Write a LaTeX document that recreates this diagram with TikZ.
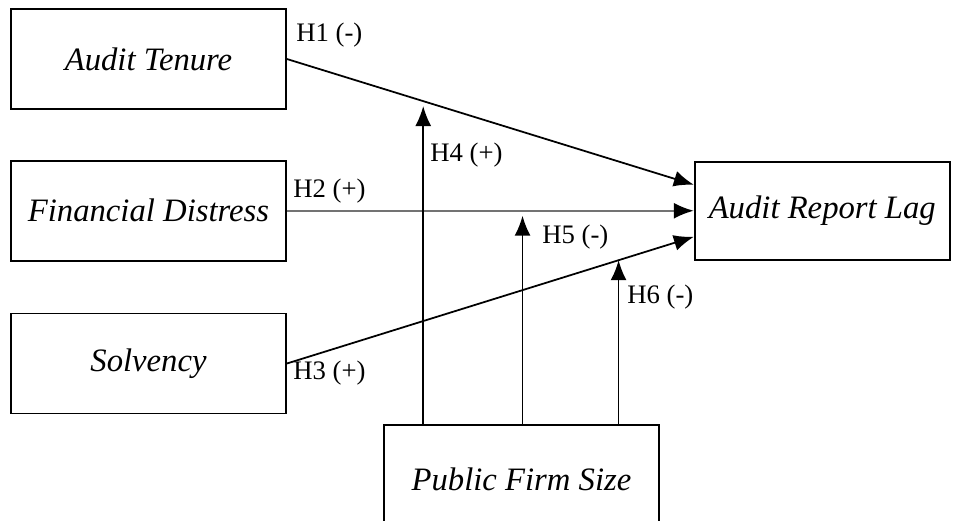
\documentclass[tikz,border=0pt]{standalone}
\usepackage{fontspec}
\setmainfont{Liberation Serif}
\usetikzlibrary{positioning, arrows.meta, calc}
\tikzstyle{var}=[draw, line width=1pt, font=\fontsize{18.6}{22}\selectfont\itshape,
                 minimum height=2cm, minimum width=5.5cm, inner sep=0pt]
\tikzstyle{hyp}=[font=\fontsize{15.2}{18}\selectfont, anchor=west, inner sep=0pt]
\tikzstyle{ar}=[-{Latex[length=4mm, width=3.2mm]}, line width=1pt]
\tikzstyle{argray}=[-{Latex[length=4mm, width=3.2mm, color=black]}, line width=1.3pt, draw=black!55]

\begin{document}
\begin{tikzpicture}[node distance=1cm and 8.14cm]
    \useasboundingbox (0,0) rectangle (19.1,-10.42);
    % independent variables
    \node[var] (tenure) at (2.97,-1.18) {Audit Tenure};
    \node[var, below=of tenure] (distress) {Financial Distress};
    \node[var, below=1.02cm of distress] (solvency) {Solvency};
    % dependent and moderating variable
    \node[var, right=of distress, minimum width=5.1cm, minimum height=1.96cm] (lag) {Audit Report Lag};
    \node[var, anchor=north, minimum height=2.16cm] (size) at (10.43,-8.48) {Public Firm Size};
    % direct effects
    \draw[ar] (tenure.east) -- ([yshift=0.52cm]lag.west);
    \draw[argray] (distress.east) -- (lag.west);
    \draw[ar] (solvency.east) -- ([yshift=-0.52cm]lag.west);
    % moderation
    \coordinate (m4) at ($(tenure.east)!0.335!([yshift=0.52cm]lag.west)$);
    \coordinate (m5) at ($(distress.east)!0.579!(lag.west)$);
    \coordinate (m6) at ($(solvency.east)!0.815!([yshift=-0.52cm]lag.west)$);
    \draw[ar, shorten >=2.8pt] (size.north -| m4) -- (m4);
    \draw[ar, shorten >=2.8pt] (size.north -| m5) -- (m5);
    \draw[ar] (size.north -| m6) -- (m6);
    % hypotheses
    \node[hyp] (h1) at (5.92,-0.70) {H1 (-)};
    \node[hyp] (h2) at (5.86,-3.82) {H2 (+)};
    \node[hyp] (h3) at (5.86,-7.46) {H3 (+)};
    \node[hyp] (h4) at (8.60,-3.10) {H4 (+)};
    \node[hyp] (h5) at (10.84,-4.74) {H5 (-)};
    \node[hyp] (h6) at (12.54,-5.94) {H6 (-)};
\end{tikzpicture}
\end{document}
